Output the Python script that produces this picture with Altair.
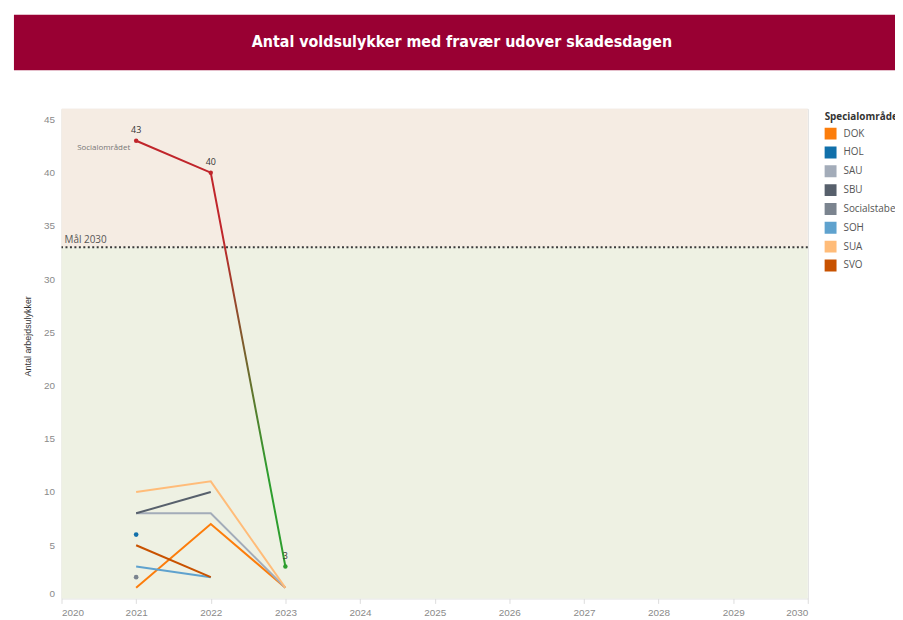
import altair as alt
import pandas as pd

# ---------------- data ----------------
title_text = "Antal voldsulykker med fravær udover skadesdagen"
years = [2021, 2022, 2023]

total_name = "Socialområdet"
total_values = [43, 40, 3]
total_point_colors = ["#c0252b", "#c0252b", "#2e9e2e"]

areas = ["DOK", "HOL", "SAU", "SBU", "Socialstaben", "SOH", "SUA", "SVO"]
area_colors = ["#fc7d0b", "#1170aa", "#a3acb9", "#57606c",
               "#7b848f", "#5fa2ce", "#ffbc79", "#c85200"]
dok = [1, 7, 1]
hol = [6, None, None]
sau = [8, 8, 1]
sbu = [8, 10, None]
socialstaben = [2, None, None]
soh = [3, 2, None]
sua = [10, 11, 1]
svo = [5, 2, None]
area_values = [dok, hol, sau, sbu, socialstaben, soh, sua, svo]

goal_value = 33
goal_label = "Mål 2030"
y_title = "Antal arbejdsulykker"
legend_title = "Specialområde"

x_domain = [2020, 2030]
y_domain = [0, 46]
x_ticks = [2020, 2021, 2022, 2023, 2024, 2025, 2026, 2027, 2028, 2029, 2030]
y_ticks = [0, 5, 10, 15, 20, 25, 30, 35, 40, 45]

# ---------------- tables ----------------
area_df = pd.DataFrame(
    [{"område": a, "år": y, "antal": v}
     for a, vals in zip(areas, area_values)
     for y, v in zip(years, vals) if v is not None]
)
total_df = pd.DataFrame({"år": years, "antal": total_values,
                         "farve": total_point_colors, "navn": total_name})
goal_df = pd.DataFrame({"mål": [goal_value], "label": [goal_label]})
upper_df = pd.DataFrame({"y": [goal_value], "y2": [y_domain[1]]})
lower_df = pd.DataFrame({"y": [y_domain[0]], "y2": [goal_value]})
banner_df = pd.DataFrame({"t": [title_text]})

W, H = 753, 494
PAD_L, PAD_T, PAD_R, PAD_B = 54, 99, 88, 19
FONT = "Open Sans"

xs = alt.Scale(domain=x_domain, nice=False, zero=False)
ys = alt.Scale(domain=y_domain, nice=False)

x_axis = alt.Axis(values=x_ticks, format="d", title=None, grid=False, domain=False,
                  ticks=True, tickColor="#dddddd", tickSize=5, labelPadding=4,
                  labelColor="#8a8a8a", labelFontSize=10, labelFlush=True)
y_axis = alt.Axis(values=y_ticks, title=y_title, grid=False, domain=False, ticks=False,
                  labelPadding=7, labelColor="#8a8a8a", labelFontSize=10,
                  labelFlush=True, titleFontSize=9, titleColor="#333333",
                  titleFontWeight="normal", titleX=-34, titleY=229,
                  titleAngle=-90, titleAlign="center", titleBaseline="middle")

X = alt.X("år:Q", scale=xs, axis=x_axis)
Y = alt.Y("antal:Q", scale=ys, axis=y_axis)

upper = alt.Chart(upper_df).mark_rect(color="#f5ece3").encode(
    x=alt.value(0), x2=alt.value(W),
    y=alt.Y("y:Q", scale=ys, axis=y_axis), y2="y2:Q")
lower = alt.Chart(lower_df).mark_rect(color="#eef1e3").encode(
    x=alt.value(0), x2=alt.value(W),
    y=alt.Y("y:Q", scale=ys), y2="y2:Q")

goal_rule = alt.Chart(goal_df).mark_rule(color="#3a3a3a", strokeWidth=2,
                                         strokeDash=[2, 2.5]).encode(
    y=alt.Y("mål:Q", scale=ys))
goal_text = alt.Chart(goal_df).mark_text(align="left", baseline="middle", dx=0, dy=-7,
                                         fontSize=10, color="#555555", font=FONT).encode(
    x=alt.value(3), y=alt.Y("mål:Q", scale=ys), text="label:N")

color_enc = alt.Color(
    "område:N", scale=alt.Scale(domain=areas, range=area_colors),
    legend=alt.Legend(title=legend_title, orient="right", offset=14, symbolType="square",
                      symbolSize=64, symbolStrokeWidth=4, rowPadding=-5, titlePadding=6,
                      titleFontSize=10, titleFontWeight="bold", titleColor="#333333",
                      labelFontSize=10, labelColor="#555555", labelFont=FONT,
                      titleFont=FONT, padding=3, labelOffset=7))

area_lines = alt.Chart(area_df).mark_line(strokeWidth=2).encode(
    x=X, y=Y, color=color_enc)
area_points = alt.Chart(area_df).transform_joinaggregate(
    n="count()", groupby=["område"]).transform_filter("datum.n == 1").mark_circle(
    size=22, opacity=1).encode(x=X, y=Y, color=color_enc)

grad = alt.Gradient(gradient="linear",
                    stops=[alt.GradientStop(color="#c0252b", offset=0),
                           alt.GradientStop(color="#c0252b", offset=0.22),
                           alt.GradientStop(color="#2e9e2e", offset=0.78),
                           alt.GradientStop(color="#2e9e2e", offset=1)],
                    x1=0, x2=0, y1=0, y2=1)
total_line = alt.Chart(total_df).mark_line(strokeWidth=2, color=grad).encode(x=X, y=Y)
total_points = alt.Chart(total_df).mark_circle(size=20, opacity=1).encode(
    x=X, y=Y, fill=alt.Fill("farve:N", scale=None))
total_labels = alt.Chart(total_df).mark_text(dy=-11, fontSize=9, color="#333333",
                                             font=FONT).encode(
    x=X, y=Y, text="antal:Q")
total_name_label = alt.Chart(total_df).transform_filter(
    alt.datum["år"] == years[0]).mark_text(align="right", dx=-6, dy=7, fontSize=8,
                                         color="#777777", font=FONT).encode(
    x=X, y=Y, text="navn:N")

banner = alt.Chart(banner_df).mark_rect(color="#990033").encode(
    x=alt.value(-48), x2=alt.value(W + PAD_R), y=alt.value(-95), y2=alt.value(-39))
banner_text = alt.Chart(banner_df).mark_text(
    color="white", fontSize=16, fontWeight="bold", align="center", baseline="middle",
    font="Liberation Sans Narrow, DejaVu Sans Condensed, Roboto Condensed, Open Sans").encode(
    x=alt.value(404), y=alt.value(-67), text="t:N")

chart = alt.layer(
    upper, lower, goal_rule, goal_text, area_lines, area_points,
    total_line, total_points, total_labels, total_name_label, banner, banner_text
).properties(
    width=W, height=H,
    autosize=alt.AutoSizeParams(type="none"),
    padding={"left": PAD_L, "top": PAD_T, "right": PAD_R, "bottom": PAD_B},
).configure_view(stroke="#cccccc").configure_axis(
    labelFont=FONT, titleFont=FONT
).configure(background="white")

chart.save("out.html", embed_options={"renderer": "svg", "actions": False})
